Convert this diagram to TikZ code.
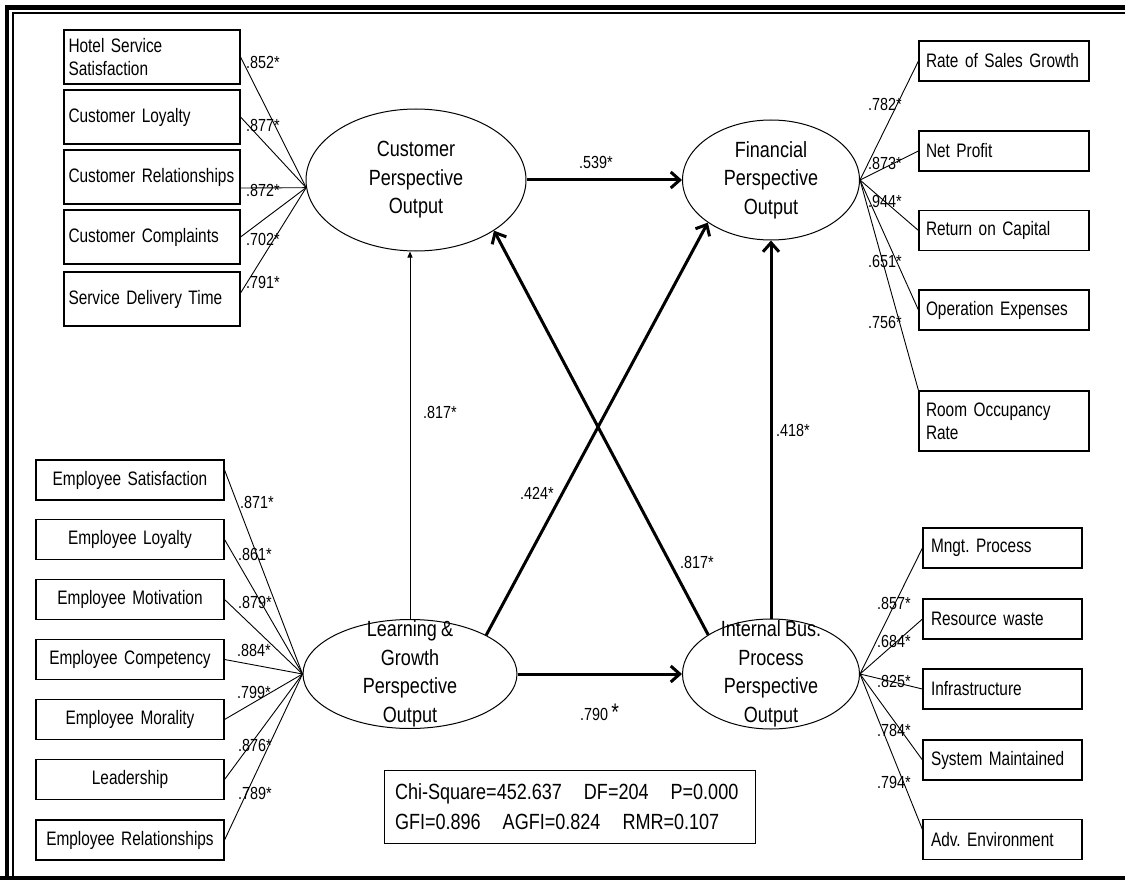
\documentclass[tikz,border=0pt]{standalone}
\usepackage{fontspec}
\setmainfont{Liberation Sans}[FakeStretch=0.82,WordSpace=0.82]
\newfontfamily\itemfam{Liberation Sans}[FakeStretch=0.79,WordSpace=0.75]
\usetikzlibrary{shapes.geometric,arrows.meta}
\newcommand{\boxfont}{\itemfam\fontsize{19.5}{23}\selectfont}
\newcommand{\latfont}{\fontsize{22}{28.5}\selectfont}
\newcommand{\coeffont}{\fontsize{17.5}{19}\selectfont}
\tikzset{every picture/.style={x=1pt,y=-1pt}}
\tikzset{indic/.style={draw,rectangle,line width=1.1pt,font=\boxfont,inner ysep=0pt,minimum height=40}}
\tikzset{custitem/.style={indic,text width=167,inner xsep=4.5,align=left,minimum height=54}}
\tikzset{finitem/.style={indic,text width=156,inner xsep=7,align=left}}
\tikzset{procitem/.style={indic,text width=143,inner xsep=8,align=left}}
\tikzset{learnitem/.style={indic,text width=182,inner xsep=3,align=center}}
\tikzset{latent/.style={ellipse,draw,line width=1pt,inner sep=0pt}}
\tikzset{lattext/.style={font=\latfont,align=center}}
\tikzset{load/.style={line width=0.9pt}}
\tikzset{effect/.style={line width=3pt,-{Straight Barb[length=9pt,width=16pt]}}}
\tikzset{weakeffect/.style={line width=1pt,-{Triangle[length=6pt,width=5pt]}}}
\tikzset{coef/.style={font=\coeffont,anchor=west,inner sep=0pt}}

\begin{document}
\frenchspacing
\begin{tikzpicture}
\useasboundingbox (0,0) rectangle (1125,880);
% frame
\draw [line width=4.5pt] (7,880) -- (7,7.5) -- (1125,7.5);
\draw [line width=2.2pt] (13,877) -- (13,13) -- (1125,13);
\draw [line width=4pt] (0,878) -- (1125,878);

% latent constructs
\node [latent,minimum width=220,minimum height=142,label={[lattext]center:Customer\\Perspective\\Output}] (cust) at (416,180) {};
\node [latent,minimum width=177,minimum height=120,label={[lattext]center:Financial\\Perspective\\Output}] (fin) at (771,180) {};
\node [latent,minimum width=214,minimum height=109,label={[lattext]center:Learning \&\\Growth\\Perspective\\Output}] (learn) at (410,674) {};
\node [latent,minimum width=177,minimum height=110,label={[lattext]center:Internal Bus.\\Process\\Perspective\\Output}] (proc) at (771,674) {};

% customer indicators
\node [custitem] (c1) at (152,57) {Hotel Service\\Satisfaction};
\node [custitem] (c2) at (152,117) {Customer Loyalty};
\node [custitem] (c3) at (152,177) {Customer Relationships};
\node [custitem] (c4) at (152,237) {Customer Complaints};
\node [custitem] (c5) at (152,299) {Service Delivery Time};
\draw [load] (c1.east) -- (cust.184);
\draw [load] (c2.east) -- (cust.184);
\draw [load] ([yshift=-11pt]c3.east) -- (cust.184);
\draw [load] (c4.east) -- (cust.184);
\draw [load] ([yshift=6pt]c5.east) -- (cust.184);
\node [coef] at (246,62) {.852*};
\node [coef] at (246,125) {.877*};
\node [coef] at (246,190) {.872*};
\node [coef] at (246,239) {.702*};
\node [coef] at (246,282) {.791*};

% financial indicators
\node [finitem] (f1) at (1004,61) {Rate of Sales Growth};
\node [finitem] (f2) at (1004,151) {Net Profit};
\node [finitem] (f3) at (1004,230.5) {Return on Capital};
\node [finitem] (f4) at (1004,310) {Operation Expenses};
\node [finitem,minimum height=60] (f5) at (1004,421) {Room Occupancy\\Rate};
\draw [load] (fin.east) -- (f1.west);
\draw [load] (fin.east) -- (f2.west);
\draw [load] (fin.east) -- (f3.west);
\draw [load] (fin.east) -- (f4.west);
\draw [load] (fin.east) -- (f5.north west);
\node [coef] at (868,104) {.782*};
\node [coef] at (868,163) {.873*};
\node [coef] at (868,201) {.944*};
\node [coef] at (868,261) {.651*};
\node [coef] at (868,322) {.756*};

% learning & growth indicators
\node [learnitem] (l1) at (130,480) {Employee Satisfaction};
\node [learnitem] (l2) at (130,539.5) {Employee Loyalty};
\node [learnitem] (l3) at (130,599.5) {Employee Motivation};
\node [learnitem] (l4) at (130,659.5) {Employee Competency};
\node [learnitem] (l5) at (130,719.5) {Employee Morality};
\node [learnitem] (l6) at (130,779.5) {Leadership};
\node [learnitem] (l7) at (130,840) {Employee Relationships};
\draw [load] ([yshift=10pt]l1.east) -- (learn.west);
\draw [load] (l2.east) -- (learn.west);
\draw [load] (l3.east) -- (learn.west);
\draw [load] (l4.east) -- (learn.west);
\draw [load] (l5.east) -- (learn.west);
\draw [load] (l6.east) -- (learn.west);
\draw [load] (l7.east) -- (learn.west);
\node [coef] at (240,502) {.871*};
\node [coef] at (238,554) {.861*};
\node [coef] at (238,602) {.879*};
\node [coef] at (237,650) {.884*};
\node [coef] at (237,692) {.799*};
\node [coef] at (238,745) {.876*};
\node [coef] at (238,793) {.789*};

% internal process indicators
\node [procitem] (p1) at (1002.5,548) {Mngt. Process};
\node [procitem] (p2) at (1002.5,619) {Resource waste};
\node [procitem] (p3) at (1002.5,689) {Infrastructure};
\node [procitem] (p4) at (1002.5,760) {System Maintained};
\node [procitem] (p5) at (1002.5,839.5) {Adv. Environment};
\draw [load] (proc.east) -- (p1.west);
\draw [load] (proc.east) -- (p2.west);
\draw [load] (proc.east) -- (p3.west);
\draw [load] (proc.east) -- (p4.west);
\draw [load] (proc.east) -- ([yshift=10pt]p5.west);
\node [coef] at (877,603) {.857*};
\node [coef] at (877,641) {.684*};
\node [coef] at (877,681) {.825*};
\node [coef] at (877,730) {.784*};
\node [coef] at (877,782) {.794*};

% structural paths
\draw [effect] (cust.east) -- (fin.west);
\draw [effect] (learn.east) -- (proc.west);
\draw [effect] (proc.north) -- (fin.south);
\draw [effect] (learn.27.5) -- (fin.214);
\draw [effect] (proc.148) -- (cust.-33);
\draw [weakeffect] (learn.north) -- (learn.north |- cust.south);
\node [coef] at (579,162) {.539*};
\node [coef] at (423,412) {.817*};
\node [coef] at (520,493) {.424*};
\node [coef] at (680,562) {.817*};
\node [coef] at (776,430) {.418*};
\node [coef] at (580,712) {.790 {\fontsize{24}{24}\selectfont*}};

% fit indices
\node [draw,line width=1pt,font=\fontsize{22}{30}\selectfont,align=left,text width=349,inner xsep=11,minimum height=73] (fit) at (569.5,806.5)
  {Chi-Square=452.637\hspace{22pt}DF=204\hspace{22pt}P=0.000\\GFI=0.896\hspace{22pt}AGFI=0.824\hspace{22pt}RMR=0.107};
\end{tikzpicture}
\end{document}
